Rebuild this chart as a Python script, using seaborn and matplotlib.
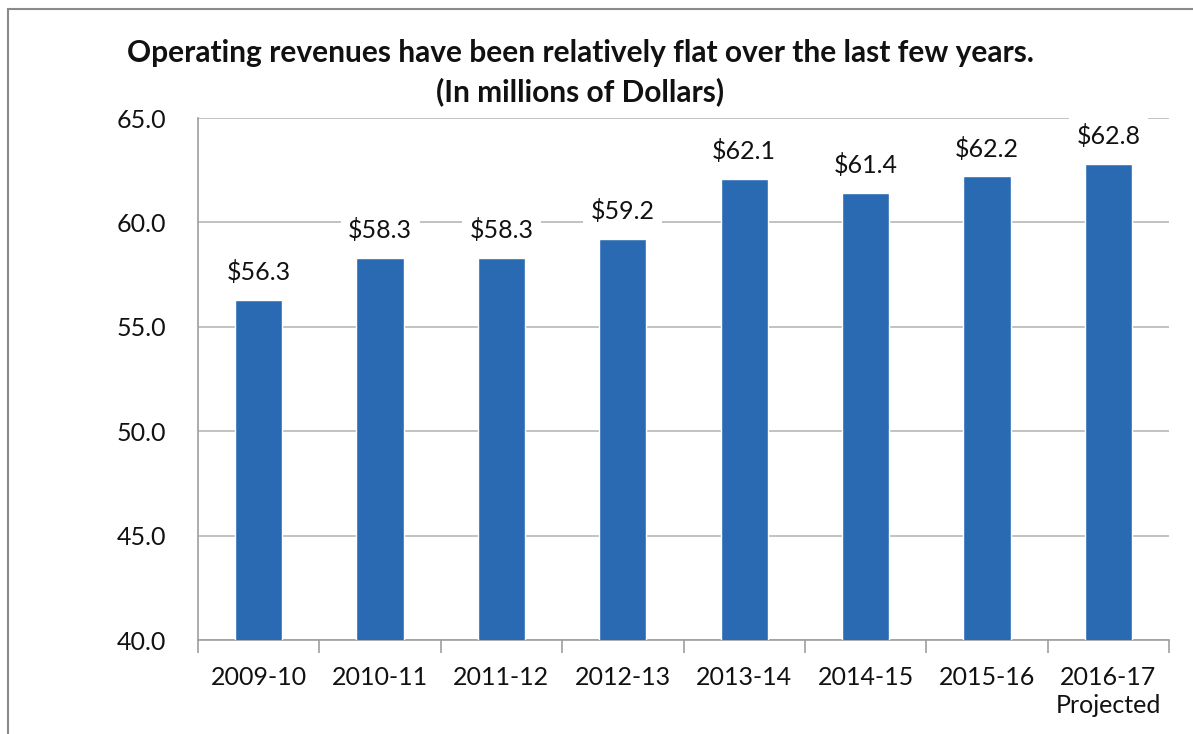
import matplotlib
matplotlib.use("Agg")
import matplotlib.pyplot as plt
from matplotlib.lines import Line2D
from matplotlib.ticker import MultipleLocator, FixedLocator, FormatStrFormatter
import seaborn as sns
import pandas as pd

# Fiscal years and operating revenues (millions of dollars)
years = ["2009-10", "2010-11", "2011-12", "2012-13",
         "2013-14", "2014-15", "2015-16", "2016-17\nProjected"]
revenues = [56.3, 58.3, 58.3, 59.2, 62.1, 61.4, 62.2, 62.8]

df = pd.DataFrame({"year": years, "revenue": revenues})

sns.set_theme(style="white")
plt.rcParams["font.family"] = ["Lato", "DejaVu Sans"]

W, H = 1193, 734
fig = plt.figure(figsize=(W / 100, H / 100), dpi=100)
ax = fig.add_axes([198 / W, 1 - 640 / H, (1169 - 198) / W, (640 - 118) / H])

bar_color = "#2a6ab3"
grid_color = "#bdbdbd"

sns.barplot(data=df, x="year", y="revenue", color=bar_color, width=0.39,
            saturation=1, ax=ax, zorder=3)

ax.set_ylim(40, 65)
ax.set_xlim(-0.5, len(years) - 0.5)
ax.yaxis.set_major_locator(MultipleLocator(5))
ax.yaxis.set_major_formatter(FormatStrFormatter("%.1f"))
ax.grid(axis="y", color=grid_color, linewidth=1.3, zorder=0)
ax.set_axisbelow(True)
ax.set_xlabel("")
ax.set_ylabel("")

for side in ("top", "right"):
    ax.spines[side].set_visible(False)
for side in ("left", "bottom"):
    ax.spines[side].set_color("#9e9e9e")
    ax.spines[side].set_linewidth(1.2)

ax.tick_params(axis="y", which="major", length=7, color=grid_color, width=1.2,
               pad=16, labelsize=18, labelcolor="#111111")
ax.tick_params(axis="x", which="major", length=0, pad=19, labelsize=18,
               labelcolor="#111111")
ax.xaxis.set_minor_locator(FixedLocator([i - 0.5 for i in range(len(years) + 1)]))
ax.tick_params(axis="x", which="minor", bottom=True, length=9,
               color="#9e9e9e", width=1.2)
for lbl in ax.get_xticklabels():
    lbl.set_linespacing(1.25)

# Value labels above each bar, boxed in white so they mask the gridlines
for i, v in enumerate(revenues):
    ax.annotate(f"${v:.1f}", xy=(i, v), xytext=(0, 20), textcoords="offset points",
                ha="center", va="center", fontsize=18, color="#111111",
                bbox=dict(boxstyle="square,pad=0.3", fc="white", ec="none"),
                zorder=4, annotation_clip=False)

fig.text(580 / W, 1 - 53 / H,
         "Operating revenues have been relatively flat over the last few years.",
         ha="center", va="center", fontsize=21.5, fontweight="bold", color="#111111")
fig.text(580 / W, 1 - 92 / H, "(In millions of Dollars)",
         ha="center", va="center", fontsize=21.5, fontweight="bold", color="#111111")

# Chart frame edges
fig.add_artist(Line2D([8 / W, 1], [1 - 9 / H, 1 - 9 / H], color="#8a8a8a", lw=1.5))
fig.add_artist(Line2D([8 / W, 8 / W], [1 - 9 / H, 0], color="#8a8a8a", lw=1.5))

fig.savefig("out.png", dpi=100)
